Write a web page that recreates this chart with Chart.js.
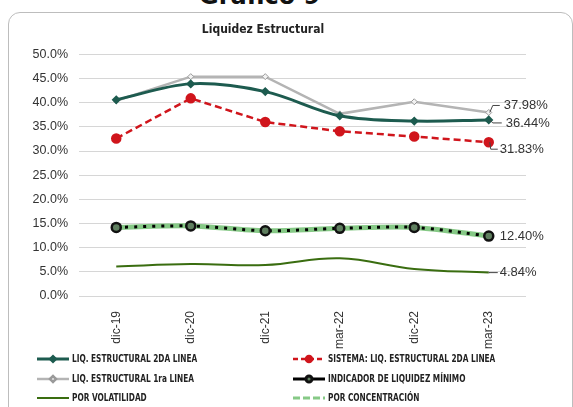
<!DOCTYPE html>
<html>
<head>
<meta charset="utf-8">
<script src="https://cdn.jsdelivr.net/npm/chart.js@4.4.1/dist/chart.umd.min.js"></script>
<style>
  html, body { margin: 0; padding: 0; background: #fff; overflow: hidden; }
  #page { position: relative; width: 573px; height: 407px; overflow: hidden; }
  #heading { position: absolute; left: 199px; top: -18px; font: bold 24px "DejaVu Sans", sans-serif; color: #111; }
  #frame { position: absolute; left: 8px; top: 12px; width: 563px; height: 420px; border: 1px solid #bdbdbd; border-radius: 12px; }
  #wrap { position: absolute; left: 0; top: 0; width: 573px; height: 407px; }
</style>
</head>
<body>
<div id="page">
  <div id="heading">Gráfico 9</div>
  <div id="frame"></div>
  <div id="wrap"><canvas id="chart"></canvas></div>
</div>
<script>
const periods = ['dic-19', 'dic-20', 'dic-21', 'mar-22', 'dic-22', 'mar-23'];

const liq2da      = [40.6, 43.9, 42.3, 37.3, 36.2, 36.44];
const sistema     = [32.6, 40.9, 36.0, 34.1, 33.0, 31.83];
const liq1ra      = [40.4, 45.4, 45.4, 37.7, 40.2, 37.98];
const indicador   = [14.2, 14.5, 13.5, 14.0, 14.2, 12.40];
const volatilidad = [6.1, 6.6, 6.4, 7.8, 5.6, 4.84];
const concentracion = [14.2, 14.5, 13.5, 14.0, 14.2, 12.40];

const fontTxt = '"Liberation Sans", Arial, sans-serif';

// labels on the last point of some series, with small leader lines
const endLabels = [
  { ds: 2, text: '37.98%', dx: 15, dy: -7, leader: [[4, -7], [11, -7]] },
  { ds: 0, text: '36.44%', dx: 17, dy: 3, leader: [[4, 3], [13, 3]] },
  { ds: 1, text: '31.83%', dx: 11, dy: 7, leader: [[2, 7], [9, 7]] },
  { ds: 3, text: '12.40%', dx: 11, dy: 0, leader: null },
  { ds: 4, text: '4.84%', dx: 11, dy: 0, leader: [[0, 0], [9, 0]] }
];

const endLabelPlugin = {
  id: 'endLabels',
  afterDatasetsDraw(chart) {
    const ctx = chart.ctx;
    ctx.save();
    ctx.font = '13px ' + fontTxt;
    ctx.fillStyle = '#333';
    ctx.textBaseline = 'middle';
    endLabels.forEach(l => {
      const pt = chart.getDatasetMeta(l.ds).data[periods.length - 1];
      if (l.leader) {
        ctx.strokeStyle = '#444';
        ctx.lineWidth = 1;
        ctx.beginPath();
        ctx.moveTo(pt.x + 1, pt.y);
        l.leader.forEach(p => ctx.lineTo(pt.x + p[0], pt.y + p[1]));
        ctx.stroke();
      }
      ctx.fillText(l.text, pt.x + l.dx, pt.y + l.dy);
    });
    ctx.restore();
  }
};

// two column legend under the x axis
const legendItems = [
  { ds: 0, x: 37, y: 359 }, { ds: 1, x: 293, y: 359 },
  { ds: 2, x: 37, y: 379 }, { ds: 3, x: 293, y: 379 },
  { ds: 4, x: 37, y: 398 }, { ds: 5, x: 293, y: 398 }
];

const legendPlugin = {
  id: 'twoColLegend',
  afterDraw(chart) {
    const ctx = chart.ctx;
    ctx.save();
    legendItems.forEach(it => {
      const d = chart.data.datasets[it.ds];
      const w = 32;
      ctx.strokeStyle = d.borderColor;
      ctx.lineWidth = Math.min(d.borderWidth, 3);
      ctx.setLineDash(d.legendDash || []);
      ctx.beginPath();
      ctx.moveTo(it.x, it.y);
      ctx.lineTo(it.x + w, it.y);
      ctx.stroke();
      ctx.setLineDash([]);
      if (d.pointRadius > 0) {
        ctx.fillStyle = d.pointBackgroundColor;
        ctx.strokeStyle = d.pointBorderColor;
        Chart.helpers.drawPoint(ctx, {
          pointStyle: d.pointStyle, radius: Math.min(d.pointRadius, 3), borderWidth: 1
        }, it.x + w / 2, it.y);
      }
      ctx.fillStyle = '#222';
      ctx.font = 'bold 10px "DejaVu Sans Condensed", sans-serif';
      ctx.textBaseline = 'middle';
      const tw = ctx.measureText(d.label).width;
      ctx.fillText(d.label, it.x + w + 3, it.y + 0.5, tw * 0.82);
    });
    ctx.restore();
  }
};

new Chart(document.getElementById('chart'), {
  type: 'line',
  data: {
    labels: periods,
    datasets: [
      {
        label: 'LIQ. ESTRUCTURAL 2DA LINEA',
        data: liq2da,
        borderColor: '#1d5b4f',
        borderWidth: 3,
        tension: 0.35,
        pointStyle: 'rectRot',
        pointRadius: 2.5,
        pointBackgroundColor: '#1d5b4f',
        pointBorderColor: '#1d5b4f',
        order: 2
      },
      {
        label: 'SISTEMA: LIQ. ESTRUCTURAL 2DA LINEA',
        data: sistema,
        borderColor: '#d0151c',
        borderWidth: 2.5,
        borderDash: [7, 4],
        legendDash: [5, 3],
        tension: 0,
        pointStyle: 'circle',
        pointRadius: 4,
        pointBackgroundColor: '#d0151c',
        pointBorderColor: '#d0151c',
        order: 1
      },
      {
        label: 'LIQ. ESTRUCTURAL 1ra LINEA',
        data: liq1ra,
        borderColor: '#b4b4b4',
        borderWidth: 2.5,
        tension: 0,
        pointStyle: 'rectRot',
        pointRadius: 3,
        pointBackgroundColor: '#f2f2f2',
        pointBorderColor: '#9a9a9a',
        pointBorderWidth: 1,
        order: 3
      },
      {
        label: 'INDICADOR DE LIQUIDEZ MÍNIMO',
        data: indicador,
        borderColor: '#000',
        borderWidth: 3,
        borderDash: [3, 6],
        legendDash: [],
        tension: 0.3,
        pointStyle: 'circle',
        pointRadius: 4.5,
        pointBackgroundColor: '#5f7f5f',
        pointBorderColor: '#111',
        pointBorderWidth: 2.5,
        order: 4
      },
      {
        label: 'POR VOLATILIDAD',
        data: volatilidad,
        borderColor: '#3a6d10',
        borderWidth: 2,
        tension: 0.4,
        pointRadius: 0,
        order: 6
      },
      {
        label: 'POR CONCENTRACIÓN',
        data: concentracion,
        borderColor: '#86c986',
        borderWidth: 5,
        legendDash: [7, 3],
        tension: 0.3,
        pointStyle: 'circle',
        pointRadius: 0,
        pointBackgroundColor: '#86c986',
        pointBorderColor: '#86c986',
        order: 5
      }
    ]
  },
  options: {
    responsive: true,
    maintainAspectRatio: false,
    animation: false,
    events: [],
    layout: { padding: { left: 0, right: 47, top: 0, bottom: 0 } },
    plugins: {
      legend: { display: false },
      tooltip: { enabled: false },
      title: {
        display: true,
        text: 'Liquidez Estructural',
        color: '#222',
        font: { family: '"DejaVu Sans Condensed", sans-serif', size: 12, weight: 'bold' },
        padding: { top: 23, bottom: 17 }
      }
    },
    scales: {
      x: {
        offset: true,
        grid: { display: false },
        border: { display: false },
        ticks: {
          color: '#333',
          font: { family: fontTxt, size: 12 },
          minRotation: 90,
          maxRotation: 90,
          padding: 7
        },
        afterFit(s) { s.height = 111; }
      },
      y: {
        min: 0,
        max: 50,
        grid: { color: '#d6d6d6', lineWidth: 1, drawTicks: false },
        border: { display: false },
        ticks: {
          stepSize: 5,
          color: '#333',
          padding: 11,
          font: { family: fontTxt, size: 12.5 },
          callback: v => v.toFixed(1) + '%'
        },
        afterFit(s) { s.width = 79; }
      }
    }
  },
  plugins: [endLabelPlugin, legendPlugin]
});
</script>
</body>
</html>
